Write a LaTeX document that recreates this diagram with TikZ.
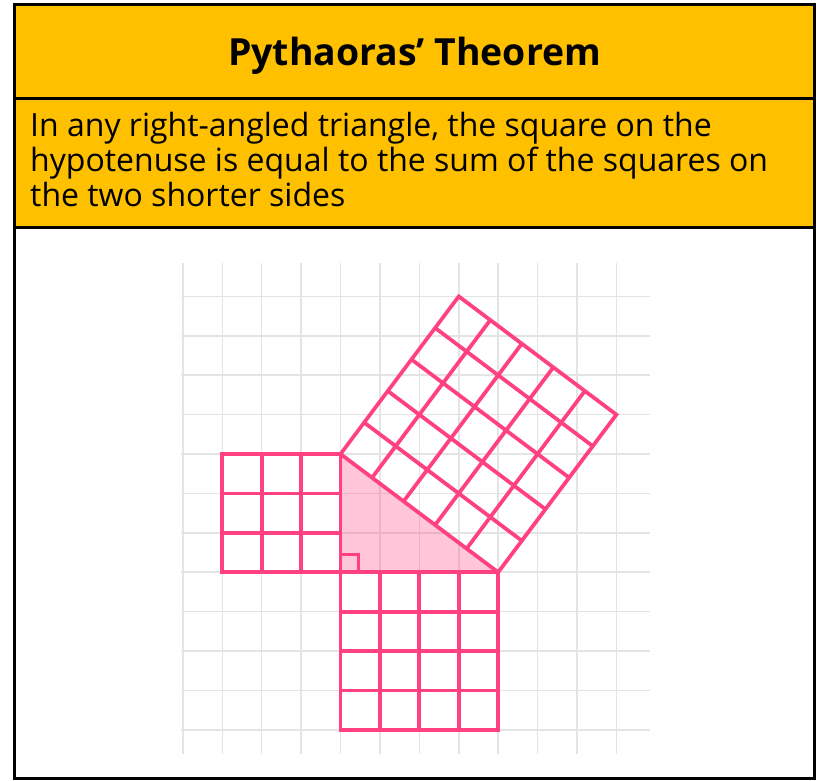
\documentclass[tikz,border=0pt]{standalone}
\usepackage{fontspec}
\setmainfont{Open Sans}
\usepackage{tikz}
\usetikzlibrary{positioning}
\definecolor{bandyellow}{RGB}{255,192,0}
\definecolor{thmpink}{RGB}{255,64,129}
\definecolor{gridgray}{RGB}{228,228,228}

\begin{document}
\begin{tikzpicture}[
  gridline/.style={draw=gridgray, line width=1.1pt},
  sqline/.style={draw=thmpink, line width=2.7pt, line join=miter},
  band/.style={fill=bandyellow, draw=black, line width=2.2pt},
  titletext/.style={font=\fontsize{27}{32}\selectfont\bfseries, inner sep=0pt},
  bodytext/.style={font=\fontsize{23.1}{25.3}\selectfont, align=left, inner sep=0pt},
]
\useasboundingbox (-8.64,-5.28) rectangle (12.09,14.52);

% Header bands
\fill[white] (-8.26,-5.23) rectangle (12.02,8.74);
\draw[band] (-8.26,12.02) rectangle (12.02,14.40);
\draw[band] (-8.26,8.74) rectangle (12.02,12.02);
\draw[black, line width=2.2pt] (-8.26,-5.23) rectangle (12.02,14.40);

\node[titletext, anchor=base] (ttl) at (1.88,12.87) {Pythaoras’ Theorem};
% base of the last line
\node[bodytext, anchor=base west] (stmt) at (-7.88,9.29)
  {In any right-angled triangle, the square on the\\
   hypotenuse is equal to the sum of the squares on\\
   the two shorter sides};

% Squared paper
\foreach \x in {-4,...,7}
  \draw[gridline] (\x,-4.6) -- (\x,7.84);
\foreach \y in {-4,...,7}
  \draw[gridline] (-4.05,\y) -- (7.85,\y);

% Triangle
\coordinate (C) at (0,0);
\coordinate (A) at (0,3);
\coordinate (B) at (4,0);
\fill[thmpink, opacity=0.3] (C) -- (A) -- (B) -- cycle;

% Squares on the sides
\draw[sqline] (-3,0) grid (0,3) (-3,0) rectangle (0,3);
\draw[sqline] (0,-4) grid (4,0) (0,-4) rectangle (4,0);
\draw[sqline, cm={0.8,-0.6,0.6,0.8,(A)}] (0,0) grid (5,5) (0,0) rectangle (5,5);

% Right angle
\draw[sqline, line width=2.2pt] (C) rectangle (0.45,0.45);

\end{tikzpicture}
\end{document}
